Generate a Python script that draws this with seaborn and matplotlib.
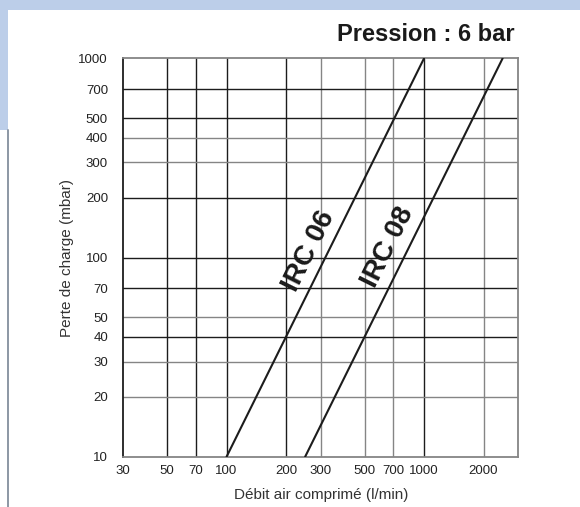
import numpy as np
import pandas as pd
import matplotlib
matplotlib.use("Agg")
import matplotlib.pyplot as plt
from matplotlib.patches import Rectangle
from matplotlib.lines import Line2D
import seaborn as sns

# chart data
irc06_flow = [100, 1000]
irc06_loss = [10, 1000]
irc08_flow = [250, 2500]
irc08_loss = [10, 1000]
x_ticks = [30, 50, 70, 100, 200, 300, 500, 700, 1000, 2000]
y_ticks = [10, 20, 30, 40, 50, 70, 100, 200, 300, 400, 500, 700, 1000]
series_names = ["IRC 06", "IRC 08"]

df = pd.DataFrame({
    "flow": irc06_flow + irc08_flow,
    "loss": irc06_loss + irc08_loss,
    "model": [series_names[0]] * 2 + [series_names[1]] * 2,
})

sns.set_style("white")
plt.rcParams["font.family"] = ["Liberation Sans", "DejaVu Sans"]

fig = plt.figure(figsize=(5.8, 5.07), dpi=100)
ax = fig.add_axes([0.2126, 0.0992, 0.681, 0.7858])

# background decoration (blue band + left strip + grey rule)
blue = "#bccee9"
fig.add_artist(Rectangle((0, 0.980), 1, 0.02, transform=fig.transFigure,
                         color=blue, lw=0, zorder=0))
fig.add_artist(Rectangle((0, 0.744), 0.0138, 0.256, transform=fig.transFigure,
                         color=blue, lw=0, zorder=0))
fig.add_artist(Line2D([0.0145, 0.0145], [0, 0.744], transform=fig.transFigure,
                      color="#8c97a4", lw=1.4))

# grid lines, black or grey like the printed chart
black = "#1c1c1c"
grey = "#858585"
v_colors = {50: black, 70: black, 100: black, 200: black, 300: grey,
            500: grey, 700: grey, 1000: black, 2000: grey}
h_colors = {20: grey, 30: grey, 40: black, 50: grey, 70: black, 100: black,
            200: black, 300: grey, 400: grey, 500: black, 700: black}
for v, c in v_colors.items():
    ax.axvline(v, color=c, lw=1.0, zorder=1)
for h, c in h_colors.items():
    ax.axhline(h, color=c, lw=1.0, zorder=1)

sns.lineplot(data=df, x="flow", y="loss", units="model", estimator=None,
             color=black, lw=1.5, ax=ax, zorder=3)

ax.set_xscale("log")
ax.set_yscale("log")
ax.set_xlim(30, 3000)
ax.set_ylim(10, 1000)
ax.set_xticks(x_ticks)
ax.set_xticklabels([str(t) for t in x_ticks])
ax.set_yticks(y_ticks)
ax.set_yticklabels([str(t) for t in y_ticks])
ax.minorticks_off()
ax.tick_params(axis="both", length=0, labelsize=9.5, colors="#222222")
ax.tick_params(axis="x", pad=6)
ax.tick_params(axis="y", pad=11)

for side in ["top", "right", "bottom"]:
    ax.spines[side].set_color(grey)
    ax.spines[side].set_linewidth(1.3)
ax.spines["left"].set_color(black)
ax.spines["left"].set_linewidth(1.3)

ax.set_xlabel("Débit air comprimé (l/min)", fontsize=11, color="#333333", labelpad=8)
ax.set_ylabel("Perte de charge (mbar)", fontsize=11, color="#333333", labelpad=3)

ax.text(261, 108, series_names[0], rotation=63.5, fontsize=20, fontweight="bold",
        ha="center", va="center", rotation_mode="anchor", color="#1a1a1a")
ax.text(656, 113, series_names[1], rotation=63.5, fontsize=20, fontweight="bold",
        ha="center", va="center", rotation_mode="anchor", color="#1a1a1a")

fig.text(0.888, 0.931, "Pression : 6 bar", ha="right", va="center",
         fontsize=17, fontweight="bold", color="#1a1a1a")

fig.savefig("out.png", dpi=100)
